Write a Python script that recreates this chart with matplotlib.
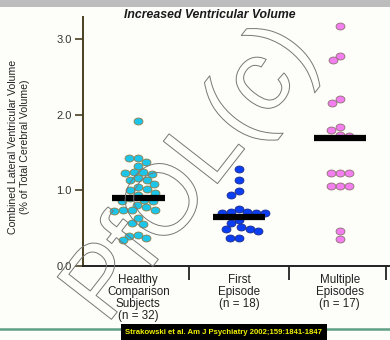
import numpy as np
import matplotlib
matplotlib.use("Agg")
import matplotlib.pyplot as plt
import matplotlib.patheffects as pe
from matplotlib.path import Path

# Combined lateral ventricular volume (% of total cerebral volume)
healthy = [1.91, 1.43, 1.43, 1.38, 1.32, 1.24, 1.24, 1.23, 1.22, 1.16, 1.14, 1.14,
           1.08, 1.04, 1.02, 1.01, 0.97, 0.94, 0.90, 0.87, 0.86, 0.86, 0.81, 0.78,
           0.74, 0.74, 0.74, 0.73, 0.64, 0.57, 0.56, 0.41, 0.40, 0.37, 0.34]
first_episode = [1.28, 1.14, 0.99, 0.94, 0.75, 0.71, 0.70, 0.70, 0.70, 0.72,
                 0.61, 0.57, 0.52, 0.49, 0.49, 0.46, 0.37, 0.37]
multiple_episodes = [3.17, 2.78, 2.72, 2.20, 2.16, 1.83, 1.80, 1.73, 1.72,
                     1.23, 1.23, 1.23, 1.06, 1.06, 1.06, 0.46, 0.36]
group_means = [0.90, 0.65, 1.69]

group_labels = ["Healthy\nComparison\nSubjects\n(n = 32)",
                "First\nEpisode\n(n = 18)",
                "Multiple\nEpisodes\n(n = 17)"]
y_ticks = [0.0, 1.0, 2.0, 3.0]

face_colors = ["#1cc6ea", "#0b3ef2", "#f27ef0"]
edge_colors = ["#8c7c46", "#1a2a8a", "#8c7070"]

# pixel scale of the axes (used only to lay the dots out as a beeswarm)
PX_X, PX_Y = 101.0, 75.6
ASPECT = 0.78  # dot height / width


def beeswarm(values, dist=9.0):
    """Offsets (category units) so elliptical dots `dist` px wide do not overlap."""
    ys = np.asarray(values) * PX_Y / ASPECT
    placed = []
    offsets = np.zeros(len(ys))
    for i in np.argsort(-ys):
        y = ys[i]
        cands = [0.0]
        for (px, py) in placed:
            dy = abs(py - y)
            if dy < dist:
                dx = np.sqrt(dist ** 2 - dy ** 2)
                cands += [px + dx, px - dx]
        cands.sort(key=lambda c: (abs(c), c))
        for c in cands:
            if all((c - px) ** 2 + (y - py) ** 2 >= dist ** 2 - 1e-6 for px, py in placed):
                break
        placed.append((c, y))
        offsets[i] = c / PX_X
    return offsets


# slightly flattened ellipse marker like the original dots
t = np.linspace(0, 2 * np.pi, 40)
ellipse = Path(np.column_stack([np.cos(t), ASPECT * np.sin(t)]), closed=True)

fig = plt.figure(figsize=(3.9, 3.4), dpi=100, facecolor="#fdfdf9")
ax = fig.add_axes([83 / 390, 1 - 266 / 340, 306 / 390, 249 / 340])
ax.set_facecolor("none")

for i, vals in enumerate([healthy, first_episode, multiple_episodes]):
    xs = i + beeswarm(vals)
    ax.scatter(xs, vals, s=6.4 ** 2, marker=ellipse, facecolor=face_colors[i],
               edgecolor=edge_colors[i], linewidth=0.6, zorder=3)

# mean bars
for i, m in enumerate(group_means):
    ax.hlines(m, i - 0.26, i + 0.26, color="black", linewidth=4.5, zorder=4)

ax.set_xlim(-0.55, 2.49)
ax.set_ylim(0, 3.29)

for s in ["top", "right"]:
    ax.spines[s].set_visible(False)
ax.spines["left"].set_color("#4a4024")
ax.spines["left"].set_linewidth(1.4)
ax.spines["bottom"].set_color("#222222")
ax.spines["bottom"].set_linewidth(1.4)

ax.set_yticks(y_ticks)
ax.set_yticklabels([f"{v:.1f}" for v in y_ticks], fontsize=8, color="#333333",
                   fontfamily="Liberation Sans")
ax.tick_params(axis="y", direction="out", length=6, width=1.2, color="#4a4024", pad=2)

ax.set_xticks(range(3))
ax.set_xticklabels(group_labels, fontsize=8.4, color="#222222",
                   fontfamily="Liberation Sans", linespacing=0.97)
ax.tick_params(axis="x", which="major", length=0, pad=6)
ax.set_xticks([0.5, 1.5, 2.46], minor=True)
ax.tick_params(axis="x", which="minor", direction="out", length=10, width=1.3,
               color="#222222")

fig.text(210 / 390, 1 - 15 / 340, "Increased Ventricular Volume", ha="center",
         va="center", fontsize=8.8, fontweight="bold", fontstyle="italic",
         fontfamily="Liberation Sans", color="#1a1a1a")

fig.text(19 / 390, 1 - 147 / 340,
         "Combined Lateral Ventricular Volume\n(% of Total Cerebral Volume)",
         rotation=90, ha="center", va="center", multialignment="center",
         fontsize=7.6, fontfamily="Liberation Sans", color="#222222",
         linespacing=1.25)

# hollow watermark
fig.text(192 / 390, 1 - 174 / 340, "PfOL(c)", rotation=52, ha="center",
         va="center", fontsize=72, fontfamily="Liberation Sans", color="none",
         path_effects=[pe.Stroke(linewidth=0.7, foreground="#777777")], zorder=10)

# top grey band, bottom rule and citation box
fig.patches.append(plt.Rectangle((0, 1 - 7 / 340), 1, 7 / 340, transform=fig.transFigure,
                                 facecolor="#bdbdbd", edgecolor="none"))
fig.lines.append(plt.Line2D([0, 1], [1 - 329 / 340] * 2, transform=fig.transFigure,
                            color="#5f9f84", linewidth=1.8))
fig.text(224 / 390, 1 - 332 / 340, "Strakowski et al. Am J Psychiatry 2002;159:1841-1847",
         ha="center", va="center", fontsize=5.6, fontweight="bold",
         fontfamily="Liberation Sans", color="#f2f200",
         bbox=dict(boxstyle="square,pad=0.55", facecolor="black", edgecolor="none"))

fig.savefig("out.png", dpi=100, facecolor=fig.get_facecolor())
